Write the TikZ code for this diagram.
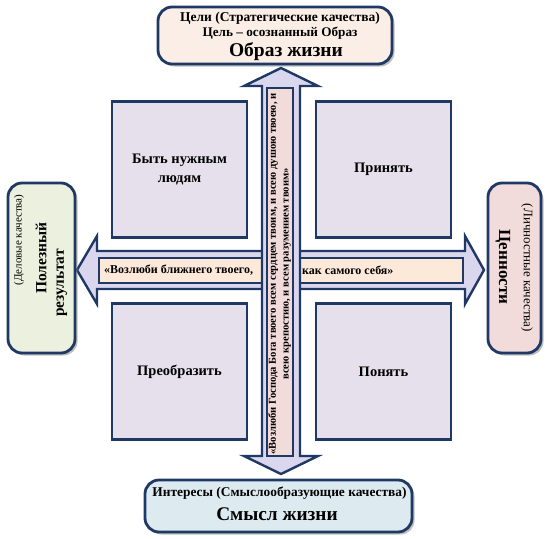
\documentclass[tikz,border=0pt]{standalone}
\usepackage{fontspec}
\setmainfont{Liberation Serif}
\usetikzlibrary{shadows}
\definecolor{navy}{HTML}{1F3864}
\definecolor{topfill}{HTML}{FBEEE6}
\definecolor{botfill}{HTML}{DDEBF0}
\definecolor{leftfill}{HTML}{EBF1DE}
\definecolor{rightfill}{HTML}{F2DCDB}
\definecolor{arrowfill}{HTML}{D9D6EE}
\definecolor{quadfill}{HTML}{E6E0EC}
\definecolor{hband}{HTML}{FDE9D9}
\definecolor{vband}{HTML}{F2DCDB}
\begin{document}
\begin{tikzpicture}[x=1pt,y=-1pt,
  rbox/.style={draw=navy, line width=2.8pt, rounded corners=14pt, inner sep=0pt,
    drop shadow={shadow xshift=2.5pt, shadow yshift=-2.5pt, fill=black!50, opacity=0.5}},
  quad/.style={draw=navy, line width=2.4pt, fill=quadfill, minimum width=135pt,
    minimum height=136pt, inner sep=0pt, font=\bfseries\fontsize{14.5}{19}\selectfont, align=center},
  arr/.style={draw=navy, line width=2.4pt, fill=arrowfill, line join=miter},
  band/.style={draw=navy, line width=1.8pt, inner sep=0pt,
    drop shadow={shadow xshift=1.2pt, shadow yshift=-1.2pt, fill=black!50, opacity=0.5}},
  txt/.style={inner sep=0pt}
]
\useasboundingbox (0,0) rectangle (550,539);
% quadrant boxes
\node[quad] (tl) at (179.5,169.5) {Быть нужным\\людям};
\node[quad] (tr) at (383.5,169.5) {Принять};
\node[quad] (bl) at (179.5,371.5) {Преобразить};
\node[quad] (br) at (383.5,371.5) {Понять};
% horizontal double arrow
\draw[arr] (77,270) -- (97,236) -- (97,251) -- (465,251) -- (465,236) -- (484,270)
  -- (465,304) -- (465,289) -- (97,289) -- (97,304) -- cycle;
\node[band, fill=hband, minimum width=364pt, minimum height=25pt] (hb) at (281,270.5) {};
\node[txt, anchor=west, font=\bfseries\fontsize{12}{14}\selectfont] (hl) at (104,270.5) {«Возлюби ближнего твоего,};
\node[txt, anchor=west, font=\bfseries\fontsize{12}{14}\selectfont] (hr) at (302,270.5) {как самого себя»};
% vertical double arrow
\draw[arr] (281,68) -- (318,86) -- (300,86) -- (300,456) -- (318,456) -- (281,474)
  -- (244,456) -- (262,456) -- (262,86) -- (244,86) -- cycle;
\node[band, fill=vband, minimum width=26pt, minimum height=368pt] (vb) at (280,272) {};
\node[txt, rotate=90, align=center, font=\bfseries\fontsize{10.6}{12.8}\selectfont] (vt) at (279.5,274)
  {«Возлюби Господа Бога твоего всем сердцем твоим, и всею душою твоею, и\\всею крепостию, и всем разумением твоим»};
% outer rounded boxes
\node[rbox, fill=topfill, minimum width=234pt, minimum height=57pt] (top) at (275,35.5) {};
\node[txt, font=\bfseries\fontsize{13.5}{15}\selectfont] (t1) at (280,18) {Цели (Стратегические качества)};
\node[txt, font=\bfseries\fontsize{13.2}{15}\selectfont] (t2) at (280,33.5) {Цель – осознанный Образ};
\node[txt, font=\bfseries\fontsize{19.5}{21}\selectfont] (t3) at (286,52) {Образ жизни};
\node[rbox, fill=botfill, minimum width=267pt, minimum height=52pt] (bot) at (278.5,506) {};
\node[txt, font=\bfseries\fontsize{13.4}{15}\selectfont] (b1) at (279.5,493) {Интересы (Смыслообразующие качества)};
\node[txt, font=\bfseries\fontsize{19.3}{21}\selectfont] (b2) at (277,514) {Смысл жизни};
\node[rbox, fill=leftfill, minimum width=67pt, minimum height=170pt] (lft) at (41.5,268) {};
\node[txt, rotate=90, font=\fontsize{11}{13}\selectfont] (l1) at (19,240) {(Деловые качества)};
\node[txt, rotate=90, font=\bfseries\fontsize{15.5}{17}\selectfont] (l2) at (41,258) {Полезный};
\node[txt, rotate=90, font=\bfseries\fontsize{15.5}{17}\selectfont] (l3) at (62,283) {результат};
\node[rbox, fill=rightfill, minimum width=53pt, minimum height=170pt] (rgt) at (514.5,268) {};
\node[txt, rotate=-90, font=\fontsize{13}{15}\selectfont] (r1) at (527,268) {(Личностные качества)};
\node[txt, rotate=-90, font=\bfseries\fontsize{17}{19}\selectfont] (r2) at (503,267) {Ценности};
\end{tikzpicture}
\end{document}
